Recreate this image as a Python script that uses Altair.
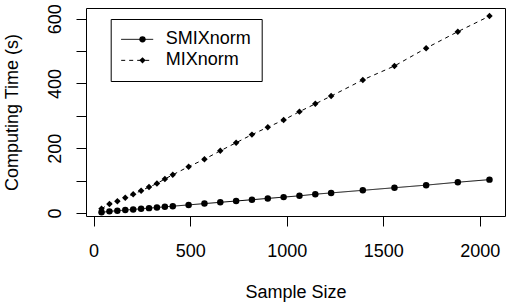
import altair as alt
import pandas as pd

# ---- data ----
series_names = ["SMIXnorm", "MIXnorm"]
marker_names = ["SMIXnorm marker", "MIXnorm marker"]
sample_size = [41, 82, 123, 164, 205, 246, 287, 328, 369, 410,
               492, 574, 656, 738, 820, 902, 984, 1066, 1148, 1230,
               1394, 1558, 1722, 1886, 2050]
smixnorm_time = [2, 5, 7, 9, 11, 13, 15, 17, 19, 21,
                 25, 29, 33, 37, 41, 45, 49, 53, 58, 62,
                 70, 78, 86, 95, 103]
mixnorm_time = [13, 28, 36, 47, 58, 69, 80, 91, 105, 118,
                143, 166, 192, 217, 242, 265, 287, 313, 337, 361,
                411, 454, 509, 560, 608]
x_ticks = [0, 500, 1000, 1500, 2000]
y_ticks = [0, 100, 200, 300, 400, 500, 600]
y_labeled = [0, 200, 400, 600]

rows = []
for name, mk, vals in zip(series_names, marker_names, [smixnorm_time, mixnorm_time]):
    for n, t in zip(sample_size, vals):
        rows.append({"n": n, "time": t, "series": name, "marker": mk})
df = pd.DataFrame(rows)

FONT = "Liberation Sans"

x_enc = alt.X("n:Q", scale=alt.Scale(domain=[-39.4, 2130.4], nice=False, zero=False),
              axis=alt.Axis(values=x_ticks, title="Sample Size", format="d",
                            labelBaseline="alphabetic", labelPadding=30,
                            titleBaseline="alphabetic", titleX=209.5, titleY=81.5))
y_enc = alt.Y("time:Q", scale=alt.Scale(domain=[-9.3, 633], nice=False, zero=False),
              axis=alt.Axis(values=y_ticks, title="Computing Time (s)", format="d",
                            labelExpr="indexof(" + str(y_labeled) + ", datum.value) >= 0 ? datum.label : ''",
                            labelAngle=-90, labelAlign="center", labelBaseline="alphabetic",
                            labelPadding=16,
                            titleAngle=270, titleBaseline="alphabetic", titleAlign="center",
                            titleX=-68.7, titleY=104))

base = alt.Chart(df)

# legend A: line samples with labels and box
line_legend = alt.Legend(title=None, orient="none", legendX=24.7, legendY=11,
                         padding=10, strokeColor="black", fillColor="white",
                         labelFont=FONT, labelFontSize=18, labelColor="black",
                         labelOffset=12, rowPadding=0, clipHeight=20.7,
                         symbolType="stroke", symbolSize=1024, symbolStrokeWidth=1,
                         symbolStrokeColor="black", symbolOpacity=1, cornerRadius=0)

# legend B: markers only, laid over the centre of the line samples
marker_legend = alt.Legend(title=None, orient="none", legendX=37.5, legendY=11,
                           padding=10, labelFont=FONT, labelFontSize=18,
                           labelColor="transparent",
                           labelOffset=12, rowPadding=0, clipHeight=20.7,
                           symbolSize=40, symbolStrokeWidth=0,
                           symbolFillColor="black", symbolOpacity=1)

lines = base.mark_line(color="black", strokeWidth=1).encode(
    x=x_enc, y=y_enc,
    strokeDash=alt.StrokeDash("series:N",
                              scale=alt.Scale(domain=series_names, range=[[1, 0], [4, 4]]),
                              legend=line_legend),
)

points = base.mark_point(filled=True, color="black", opacity=1, size=42).encode(
    x=x_enc, y=y_enc,
    shape=alt.Shape("marker:N", scale=alt.Scale(domain=marker_names, range=["circle", "diamond"]),
                    legend=marker_legend),
)

chart = alt.layer(lines, points).properties(
    width=419, height=208,
    autosize=alt.AutoSizeParams(type="none"),
    padding={"left": 86, "top": 8, "right": 5, "bottom": 91},
).configure(
    background="white"
).configure_view(
    stroke="black", strokeWidth=1
).configure_axis(
    grid=False, domain=False, ticks=True, tickSize=10, tickColor="black", tickWidth=1,
    labelFont=FONT, labelFontSize=18, labelColor="black",
    titleFont=FONT, titleFontSize=18, titleColor="black", titleFontWeight="normal",
)

chart.save("out.html", embed_options={"renderer": "svg", "actions": False})
